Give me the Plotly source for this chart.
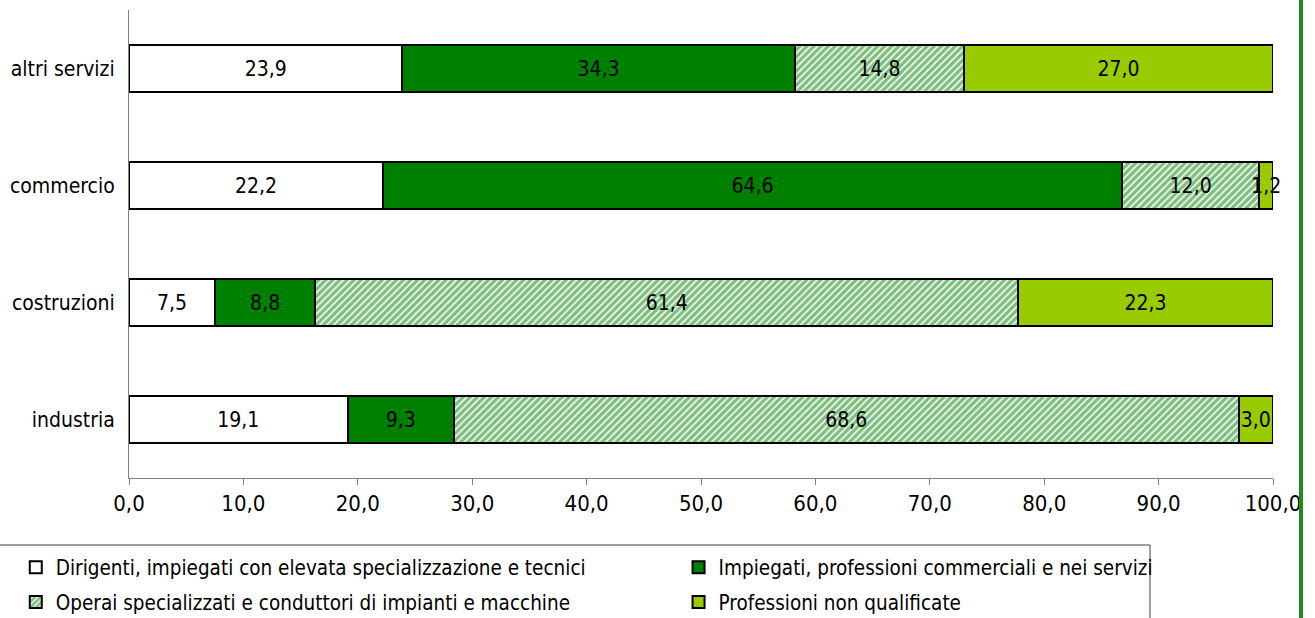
import plotly.graph_objects as go

# Sectors, bottom to top on the category axis
sectors = ["industria", "costruzioni", "commercio", "altri servizi"]

# Share of hires by occupational group (%)
dirigenti = [19.1, 7.5, 22.2, 23.9]
impiegati = [9.3, 8.8, 64.6, 34.3]
operai = [68.6, 61.4, 12.0, 14.8]
non_qualificate = [3.0, 22.3, 1.2, 27.0]

names = [
    "Dirigenti, impiegati con elevata specializzazione e tecnici",
    "Impiegati, professioni commerciali e nei servizi",
    "Operai specializzati e conduttori di impianti e macchine",
    "Professioni non qualificate",
]

FONT = "DejaVu Sans Condensed, DejaVu Sans"
FS = 21
DARK = "#008000"
LIGHT = "#99CC00"

series = [
    (dirigenti, names[0], dict(color="white"), "legend"),
    (impiegati, names[1], dict(color=DARK), "legend2"),
    (operai, names[2], dict(color="white",
                            pattern=dict(shape="/", fgcolor=DARK, bgcolor="white",
                                         size=5, solidity=0.7)), "legend"),
    (non_qualificate, names[3], dict(color=LIGHT), "legend2"),
]

fig = go.Figure()
for i, (vals, name, marker, leg) in enumerate(series):
    marker = dict(marker, line=dict(color="black", width=2))
    fig.add_trace(go.Bar(
        y=sectors, x=vals, orientation="h", name=name,
        marker=marker, width=0.41,
        text=[f"{v:.1f}".replace(".", ",") for v in vals],
        textposition="inside", insidetextanchor="middle", textangle=0,
        textfont=dict(family=FONT, size=FS, color="black"),
        cliponaxis=False,
        legend=leg, legendgroup=f"g{i}",
    ))

legend_common = dict(xref="container", yref="container", y=0.114,
                     xanchor="left", yanchor="top", traceorder="grouped",
                     tracegroupgap=5, bgcolor="rgba(0,0,0,0)",
                     font=dict(family=FONT, size=20.5))

fig.update_layout(
    barmode="stack",
    width=1315, height=618,
    margin=dict(l=129, r=42, t=10, b=140, autoexpand=False),
    paper_bgcolor="white", plot_bgcolor="white",
    separators=",.",
    font=dict(family=FONT, size=FS, color="black"),
    uniformtext=dict(minsize=FS, mode="show"),
    xaxis=dict(range=[0, 100], dtick=10, tickformat=".1f",
               showgrid=False, zeroline=False,
               showline=True, linecolor="#808080", linewidth=1,
               ticks="outside", ticklen=6, tickcolor="#808080",
               tickfont=dict(family=FONT, size=22)),
    yaxis=dict(range=[-0.5, 3.5], showgrid=False, zeroline=False,
               showline=True, linecolor="#808080", linewidth=1,
               ticks="outside", ticklen=9, tickcolor="rgba(0,0,0,0)",
               tickfont=dict(family=FONT, size=FS)),
    legend=dict(legend_common, x=0.012),
    legend2=dict(legend_common, x=0.516),
    showlegend=True,
)

# Legend frame
fig.add_shape(type="rect", xref="paper", yref="paper",
              x0=-130 / 1144, x1=(1150 - 129) / 1144,
              y0=-(640 - 478) / 468, y1=-(545 - 478) / 468,
              line=dict(color="#404040", width=1), fillcolor="rgba(0,0,0,0)",
              layer="below")

# Green frame edge on the right
fig.add_shape(type="line", xref="paper", yref="paper",
              x0=(1301 - 129) / 1144, x1=(1301 - 129) / 1144,
              y0=-(618 - 478) / 468, y1=1 + 10 / 468,
              line=dict(color="#1E8C1E", width=4))

fig.write_html("out.html")
